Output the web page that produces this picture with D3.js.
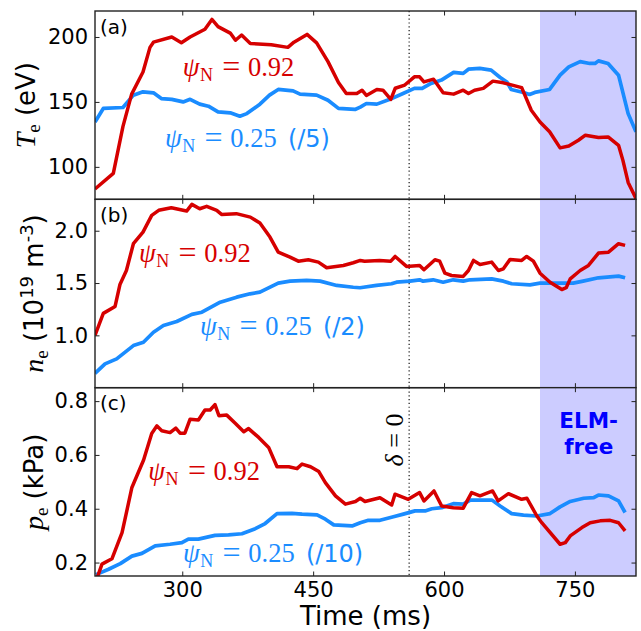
<!DOCTYPE html>
<html><head><meta charset="utf-8">
<script src="https://cdn.jsdelivr.net/npm/d3@7"></script>
<style>body{margin:0;background:#fff}svg{display:block}</style>
</head><body><svg id="c" width="641" height="631"></svg>
<script>
// ---------------- data (time ms, value) ----------------
const timeDomain = [200, 820];
const xTicks = [300, 450, 600, 750];
const deltaZeroTime = 560;
const elmFree = [710, 820];

const teEdge = [[200,83],[221,95],[232,131],[242,156],[255,173],[263,192],[267,196],[288,200],[299,195.5],[309,200],[326,206],[334,213.5],[341,208],[355,203],[361,197.5],[368,201.5],[378,195],[402,194],[421,192],[428,196],[443,202],[454,195.5],[467,181],[479,165],[488,156.5],[500,156.5],[506,159],[511,155],[523,159.5],[530,159],[539,152],[544,160.5],[555,163],[566,169.3],[572,169.3],[577,165.4],[588,167.5],[599,157],[611,156],[622,159],[628,156.5],[635,159],[645,160.4],[656,166],[668,164.7],[689,161],[700,143.6],[710,134.6],[721,127],[733,114.6],[743,116],[754,120.5],[762,124.4],[777,122.6],[788,123],[800,116.6],[805,105],[811,88],[819,77],[822,72]];
const teCore = [[200,134.6],[209.5,145],[232,145.7],[244,155.2],[255,157.8],[267,157],[276,152.6],[288,152],[301,150],[309,152],[320,148.3],[330,146.7],[341,142.3],[355,141.6],[366,139],[374,141],[389,148.3],[400,155.2],[410,159.6],[427,158.5],[435,156],[454,155.2],[467,151.3],[479,145],[498,144.2],[504,146],[511,148.8],[523,148.3],[538,152],[553,156.5],[566,160.4],[575,160.4],[585,164.2],[597,166.8],[611,172.7],[622,172],[628,175.2],[641,175.8],[654,174.5],[664,169],[672,165.4],[677,159.6],[691,157.3],[698,155.7],[704,157.3],[721,159.6],[733,170.6],[743,177],[756,181],[767,179.6],[773,179.6],[777,181.6],[788,179.6],[800,170.6],[811,141],[820,127]];
const neEdge = [[200,1.0],[209.5,1.21],[223,1.276],[228.6,1.486],[236,1.62],[244,1.876],[255,1.987],[265,2.147],[273,2.195],[287.5,2.22],[305,2.188],[311,2.252],[320,2.21],[328,2.233],[339.5,2.195],[345,2.156],[362,2.163],[378,2.13],[389,2.073],[400.5,1.939],[410,1.795],[423.5,1.748],[433,1.709],[444.5,1.723],[456,1.70],[465.5,1.646],[484.6,1.668],[496,1.694],[504,1.716],[509,1.709],[526,1.716],[539,1.709],[544,1.754],[557,1.659],[572,1.668],[577,1.627],[589.6,1.723],[595,1.709],[601,1.594],[608.6,1.572],[622,1.563],[628,1.62],[633.7,1.716],[641.3,1.678],[654.6,1.70],[662.3,1.62],[668,1.636],[675.7,1.726],[689,1.716],[694.7,1.754],[702.4,1.709],[710,1.594],[721.5,1.508],[735,1.438],[740,1.455],[744.6,1.54],[756,1.62],[765.5,1.668],[777,1.786],[788.5,1.795],[800,1.876],[807.5,1.86]];
const neCore = [[200,0.637],[211.5,0.727],[224.8,0.775],[244,0.902],[255.5,0.934],[267,1.03],[278.4,1.094],[293.7,1.132],[311,1.2],[322.5,1.221],[343.5,1.317],[362.4,1.365],[377.7,1.397],[389,1.413],[410,1.499],[423.5,1.518],[442.6,1.525],[458,1.518],[477,1.477],[496,1.46],[503.7,1.455],[522.6,1.477],[539.8,1.493],[545.5,1.508],[561,1.518],[572,1.531],[576,1.518],[587.5,1.531],[599,1.508],[610.6,1.531],[622,1.518],[629.6,1.531],[654.6,1.54],[668,1.518],[677.5,1.493],[698.5,1.483],[710,1.499],[729,1.499],[748,1.499],[759.4,1.518],[777,1.55],[800,1.566],[807.5,1.55]];
const peEdge = [[201,0.13],[208,0.194],[219.4,0.214],[231,0.311],[242.3,0.479],[255.7,0.581],[265,0.68],[271,0.708],[276.5,0.69],[286,0.683],[292.6,0.70],[297.5,0.681],[303,0.681],[309,0.733],[318.5,0.73],[326,0.767],[332,0.767],[337.5,0.787],[342,0.746],[351,0.748],[361,0.717],[370.5,0.686],[376,0.698],[387.6,0.665],[399,0.628],[408.6,0.556],[422,0.556],[431.5,0.549],[437.3,0.566],[447,0.556],[456.5,0.538],[464,0.497],[475.6,0.448],[487,0.417],[498.5,0.427],[504,0.439],[509.4,0.427],[526.6,0.441],[540,0.414],[543.8,0.454],[559,0.435],[572,0.46],[577,0.429],[588.5,0.466],[597.3,0.41],[610.6,0.404],[622,0.402],[631.6,0.46],[641.2,0.448],[655.7,0.466],[662,0.429],[673.8,0.456],[689,0.435],[695,0.439],[706.4,0.373],[712,0.348],[733,0.268],[739,0.274],[744.6,0.299],[758,0.33],[767.5,0.348],[779,0.355],[790.4,0.357],[800,0.348],[807.5,0.318]];
const peCore = [[201,0.155],[203.8,0.159],[215.6,0.175],[229,0.196],[242.3,0.224],[253.8,0.234],[269,0.262],[286,0.268],[299.6,0.274],[307,0.287],[318.5,0.287],[337.5,0.301],[353,0.303],[368.4,0.307],[383.7,0.326],[395,0.345],[408.6,0.382],[425.7,0.383],[437.3,0.38],[454.5,0.377],[464,0.361],[473.6,0.34],[494.6,0.336],[504,0.348],[513.3,0.357],[526.6,0.357],[542,0.37],[553.4,0.38],[566.8,0.392],[578.3,0.392],[586,0.40],[597.3,0.404],[610.6,0.419],[622,0.417],[630,0.432],[655,0.432],[664.3,0.41],[677.5,0.382],[691,0.376],[706.4,0.373],[721.5,0.382],[733,0.407],[744.6,0.427],[760,0.439],[771.5,0.441],[777,0.451],[788.5,0.448],[800,0.429],[807.5,0.386]];

const teDomain = [75, 220], teTicks = [100, 150, 200];
const neDomain = [0.5, 2.3], neTicks = [1.0, 1.5, 2.0];
const peDomain = [0.15, 0.85], peTicks = [0.2, 0.4, 0.6, 0.8];
const panelLetters = ["(a)", "(b)", "(c)"];
const edgeLabel = "0.92", coreLabel = "0.25";
const coreScales = ["(/5)", "(/2)", "(/10)"];

// ---------------- layout ----------------
const RED = "#d60000", BLUE = "#1a8cff";
const M = {left: 95, right: 636, top: 11, bottom: 576};
const ph = (M.bottom - M.top) / 3;
const svg = d3.select("#c");
const x = d3.scaleLinear().domain(timeDomain).range([M.left, M.right]);
const SERIF = "'Liberation Serif', 'DejaVu Serif', serif";
const SANS = "'DejaVu Sans', sans-serif";

const panels = [
  {dom: teDomain, ticks: teTicks, fmt: d3.format("d"), edge: teEdge, core: teCore,
   edgePos: [182.7, 76], corePos: [165, 146.7], letterY: 34, labX: 35},
  {dom: neDomain, ticks: neTicks, fmt: d3.format(".1f"), edge: neEdge, core: neCore,
   edgePos: [139, 261.7], corePos: [200, 335], letterY: 222, labX: 43},
  {dom: peDomain, ticks: peTicks, fmt: d3.format(".1f"), edge: peEdge, core: peCore,
   edgePos: [148.3, 480], corePos: [183, 561.7], letterY: 410, labX: 43}
];

svg.append("defs").selectAll("clipPath").data(panels).join("clipPath")
  .attr("id", (d, i) => "clip" + i)
  .append("rect").attr("x", M.left).attr("y", (d, i) => M.top + i * ph)
  .attr("width", M.right - M.left).attr("height", ph);

function mathLabel(g, x0, y0, color, num, suffix) {
  const s = 24;
  g.append("text").attr("x", x0).attr("y", y0).attr("fill", color)
    .style("font-family", SERIF).style("font-style", "italic").style("font-size", "27px").text("ψ");
  g.append("text").attr("x", x0 + 0.72 * s).attr("y", y0 + 0.2 * s).attr("fill", color)
    .style("font-family", SERIF).style("font-size", "18px").text("N");
  g.append("text").attr("x", x0 + 1.65 * s).attr("y", y0 + 1).attr("fill", color)
    .style("font-family", SERIF).style("font-size", "32px").text("=");
  g.append("text").attr("x", x0 + 2.72 * s).attr("y", y0).attr("fill", color)
    .style("font-family", SERIF).style("font-size", "26.5px").text(num);
  if (suffix) g.append("text").attr("x", x0 + 5.12 * s).attr("y", y0).attr("fill", color)
    .style("font-family", SANS).style("font-size", s + "px").text(suffix);
}

panels.forEach((p, i) => {
  const y0 = M.top + i * ph, y1 = y0 + ph;
  const y = d3.scaleLinear().domain(p.dom).range([y1, y0]);
  const g = svg.append("g");
  g.append("rect").attr("x", x(elmFree[0])).attr("y", y0)
    .attr("width", x(elmFree[1]) - x(elmFree[0])).attr("height", ph).attr("fill", "#ccccff");
  g.append("line").attr("x1", x(deltaZeroTime)).attr("x2", x(deltaZeroTime))
    .attr("y1", y0).attr("y2", y1).attr("stroke", "#000").attr("stroke-width", 1.1)
    .attr("stroke-dasharray", "1.2,2.6");
  const line = d3.line().x(d => x(d[0])).y(d => y(d[1]));
  const lg = g.append("g").attr("clip-path", `url(#clip${i})`);
  lg.append("path").datum(p.core).attr("d", line).attr("fill", "none")
    .attr("stroke", BLUE).attr("stroke-width", 3.7).attr("stroke-linejoin", "round");
  lg.append("path").datum(p.edge).attr("d", line).attr("fill", "none")
    .attr("stroke", RED).attr("stroke-width", 3.5).attr("stroke-linejoin", "round");
  const tk = 4.5;
  const left = g.append("g").attr("transform", `translate(${M.left},0)`)
    .call(d3.axisLeft(y).tickValues(p.ticks).tickFormat(p.fmt).tickSizeInner(-tk).tickSizeOuter(0).tickPadding(7));
  const right = g.append("g").attr("transform", `translate(${M.right},0)`)
    .call(d3.axisRight(y).tickValues(p.ticks).tickFormat("").tickSizeInner(-tk).tickSizeOuter(0));
  const top = g.append("g").attr("transform", `translate(0,${y0})`)
    .call(d3.axisTop(x).tickValues(xTicks).tickFormat("").tickSizeInner(-tk).tickSizeOuter(0));
  const bot = g.append("g").attr("transform", `translate(0,${y1})`)
    .call(d3.axisBottom(x).tickValues(xTicks).tickFormat(i === 2 ? d3.format("d") : "")
      .tickSizeInner(-tk).tickSizeOuter(0).tickPadding(6));
  [left, right, top, bot].forEach(a => {
    a.select(".domain").remove();
    a.selectAll("line").attr("stroke", "#222").attr("stroke-width", 1);
    a.selectAll("text").attr("fill", "#000").style("font-family", SANS).style("font-size", "21px");
  });
  g.append("rect").attr("x", M.left).attr("y", y0).attr("width", M.right - M.left).attr("height", ph)
    .attr("fill", "none").attr("stroke", "#222").attr("stroke-width", 1.4);
  g.append("text").attr("x", 100).attr("y", p.letterY).text(panelLetters[i])
    .style("font-family", SANS).style("font-size", "20px").attr("fill", "#000");
  mathLabel(g, p.edgePos[0], p.edgePos[1], RED, edgeLabel, null);
  mathLabel(g, p.corePos[0], p.corePos[1], BLUE, coreLabel, coreScales[i]);
  const cy = (y0 + y1) / 2;
  const yl = g.append("text").attr("transform", `translate(${p.labX},${cy}) rotate(-90)`)
    .attr("text-anchor", "middle").style("font-family", SANS).style("font-size", "26px").attr("fill", "#000");
  const sym = ["T", "n", "p"][i];
  yl.append("tspan").style("font-family", SERIF).style("font-style", "italic").style("font-size", "28px").text(sym);
  yl.append("tspan").style("font-family", SERIF).style("font-size", "19px").attr("dy", 5).text("e");
  if (i === 0) {
    yl.append("tspan").attr("dy", -5).text(" (eV)");
  } else if (i === 1) {
    yl.append("tspan").attr("dy", -5).text(" (10");
    yl.append("tspan").style("font-size", "18px").attr("dy", -10).text("19");
    yl.append("tspan").attr("dy", 10).text(" m");
    yl.append("tspan").style("font-size", "18px").attr("dy", -10).text("-3");
    yl.append("tspan").attr("dy", 10).text(")");
  } else {
    yl.append("tspan").attr("dy", -5).text(" (kPa)");
  }
});

const dl = svg.append("text").attr("transform", `translate(403,440) rotate(-90)`)
  .attr("text-anchor", "middle").style("font-family", SERIF).style("font-size", "26px").attr("fill", "#000");
dl.append("tspan").style("font-style", "italic").text("δ");
dl.append("tspan").text(" = 0");

const ef = svg.append("text").attr("text-anchor", "middle").style("font-family", SANS)
  .style("font-weight", "bold").style("font-size", "21.5px").attr("fill", "#0000ff");
ef.append("tspan").attr("x", 588.7).attr("y", 428).text("ELM-");
ef.append("tspan").attr("x", 588.7).attr("y", 454).text("free");

svg.append("text").attr("x", (M.left + M.right) / 2).attr("y", 625).attr("text-anchor", "middle")
  .style("font-family", SANS).style("font-size", "26px").attr("fill", "#000").text("Time (ms)");
</script></body></html>
